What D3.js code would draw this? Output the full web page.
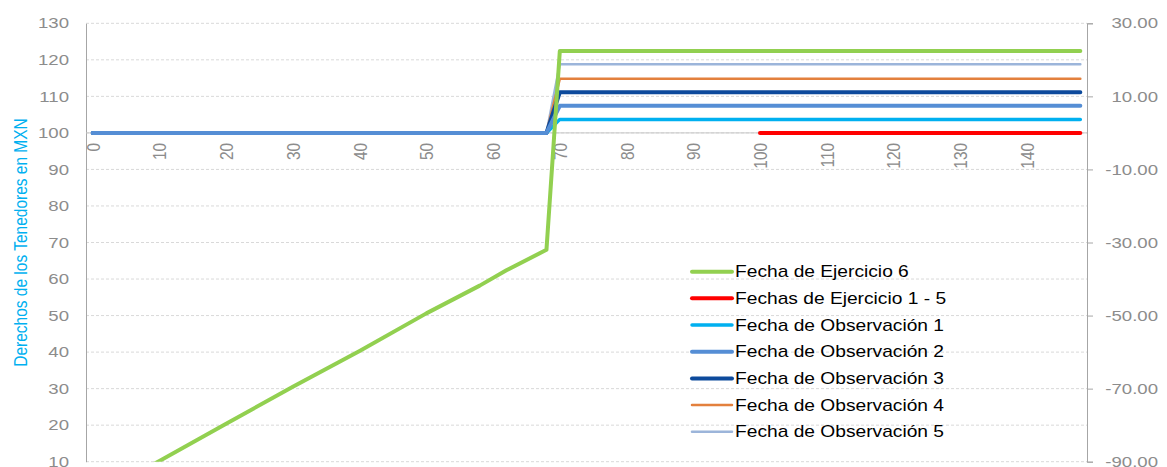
<!DOCTYPE html>
<html>
<head>
<meta charset="utf-8">
<script src="https://cdn.jsdelivr.net/npm/d3@7"></script>
<style>
  body { margin: 0; background: #fff; }
  svg { display: block; font-family: "Liberation Sans", Arial, sans-serif; }
</style>
</head>
<body>
<div id="chart"></div>
<script>
// tick labels
let x_ticks = [0, 10, 20, 30, 40, 50, 60, 70, 80, 90, 100, 110, 120, 130, 140];
let left_ticks = [10, 20, 30, 40, 50, 60, 70, 80, 90, 100, 110, 120, 130];
let right_ticks = [-90, -70, -50, -30, -10, 10, 30];

// series, as [day, value] vertices
let ejercicio_6 = [[0, 0.3], [10, 10.2], [20, 20.4], [30, 30.5], [40, 40.3], [50, 50.6],
                   [58, 58.2], [62, 62.4], [68, 68.0], [69, 95], [70, 122.4], [148, 122.4]];
let ejercicio_1_5 = [[100, 100], [148, 100]];
let observacion_1 = [[0, 100], [68, 100], [70, 103.7], [148, 103.7]];
let observacion_2 = [[0, 100], [68, 100], [70, 107.4], [148, 107.4]];
let observacion_3 = [[0, 100], [68, 100], [70, 111.1], [148, 111.1]];
let observacion_4 = [[0, 100], [68, 100], [70, 114.8], [148, 114.8]];
let observacion_5 = [[0, 100], [68, 100], [70, 118.8], [148, 118.8]];

let legend_names = ["Fecha de Ejercicio 6", "Fechas de Ejercicio 1 - 5", "Fecha de Observación 1",
                    "Fecha de Observación 2", "Fecha de Observación 3", "Fecha de Observación 4",
                    "Fecha de Observación 5"];

// colors
let color_green = "#92d050";
let color_red = "#ff0000";
let color_cyan = "#00b0f0";
let color_blue = "#558ed5";
let color_navy = "#0d4a9c";
let color_orange = "#e3803d";
let color_light_blue = "#9cb5da";
let color_label = "#8c8c8c";
let color_axis = "#a6a6a6";
let color_grid = "#d9d9d9";

let width = 1167;
let height = 467;
let plot = {left: 86, right: 1087, top: 23.3, bottom: 461.7};
let stretch = 1.2;   // text in the picture is drawn a bit wide
let font_size = 15.5;

let series = [
  {name: legend_names[0], data: ejercicio_6, color: color_green, w: 4},
  {name: legend_names[1], data: ejercicio_1_5, color: color_red, w: 4},
  {name: legend_names[2], data: observacion_1, color: color_cyan, w: 3.5},
  {name: legend_names[3], data: observacion_2, color: color_blue, w: 4},
  {name: legend_names[4], data: observacion_3, color: color_navy, w: 4},
  {name: legend_names[5], data: observacion_4, color: color_orange, w: 2.5},
  {name: legend_names[6], data: observacion_5, color: color_light_blue, w: 2.5}
];
// drawing order (last on top)
let draw_order = [6, 5, 2, 4, 3, 1, 0];

let x = d3.scaleLinear().domain([-1, 149]).range([plot.left, plot.right]);
let y = d3.scaleLinear().domain([10, 130]).range([plot.bottom, plot.top]);
let y_right = d3.scaleLinear().domain([-90, 30]).range([plot.bottom, plot.top]);

let svg = d3.select("#chart").append("svg")
            .attr("width", width)
            .attr("height", height);

svg.append("clipPath").attr("id", "plot-clip")
   .append("rect")
   .attr("x", plot.left)
   .attr("y", plot.top - 5)
   .attr("width", plot.right - plot.left)
   .attr("height", plot.bottom - plot.top + 5);

// gridlines
svg.append("g")
   .selectAll("line")
   .data(left_ticks)
   .join("line")
   .attr("x1", plot.left)
   .attr("x2", plot.right)
   .attr("y1", d => y(d))
   .attr("y2", d => y(d))
   .style("stroke", color_grid)
   .style("stroke-width", 1)
   .style("stroke-dasharray", "3,2");

// left axis
let left_axis = svg.append("g")
   .attr("transform", `translate(${plot.left},0)`)
   .call(d3.axisLeft(y).tickValues(left_ticks).tickSize(0).tickPadding(14.2));
left_axis.select(".domain").style("stroke", color_axis);
left_axis.selectAll("text")
   .attr("dy", "0.3em")
   .attr("transform", `scale(${stretch},1)`)
   .style("fill", color_label)
   .style("font-size", font_size + "px")
   .style("font-family", "Liberation Sans, Arial, sans-serif");

// right axis
let right_axis = svg.append("g")
   .attr("transform", `translate(${plot.right},0)`)
   .call(d3.axisRight(y_right).tickValues(right_ticks).tickSize(6)
           .tickFormat(d => d3.format(".2f")(d).replace("−", "-")));
right_axis.select(".domain").style("stroke", color_axis);
right_axis.selectAll("line").style("stroke", color_axis);
right_axis.selectAll("text")
   .attr("text-anchor", "end")
   .attr("x", (1158 - plot.right) / stretch)
   .attr("dy", "0.3em")
   .attr("transform", `scale(${stretch},1)`)
   .style("fill", color_label)
   .style("font-size", font_size + "px")
   .style("font-family", "Liberation Sans, Arial, sans-serif");

// category axis crossing at 100
let x_axis = svg.append("g")
   .attr("transform", `translate(0,${y(100)})`)
   .call(d3.axisBottom(x).tickValues(x_ticks).tickSize(0));
x_axis.select(".domain").style("stroke", "#c8c8c8").attr("d", `M${plot.left},0H${plot.right}`);
x_axis.selectAll("text")
   .attr("text-anchor", "end")
   .attr("x", -10)
   .attr("y", 0)
   .attr("dy", "0.35em")
   .attr("transform", `rotate(-90) scale(1,${stretch})`)
   .style("fill", color_label)
   .style("font-size", font_size + "px")
   .style("font-family", "Liberation Sans, Arial, sans-serif");

// lines
let line = d3.line().x(d => x(d[0])).y(d => y(d[1]));

svg.append("g")
   .attr("clip-path", "url(#plot-clip)")
   .selectAll("path")
   .data(draw_order.map(i => series[i]))
   .join("path")
   .attr("d", d => line(d.data))
   .style("fill", "none")
   .style("stroke", d => d.color)
   .style("stroke-width", d => d.w)
   .style("stroke-linecap", "round")
   .style("stroke-linejoin", "round");

// y axis title
svg.append("text")
   .attr("transform", `translate(20.5,242.5) rotate(-90) scale(1,${stretch})`)
   .attr("text-anchor", "middle")
   .attr("dy", "0.35em")
   .style("fill", color_cyan)
   .style("font-size", font_size + "px")
   .text("Derechos de los Tenedores en MXN");

// legend
let legend = svg.append("g")
   .selectAll("g")
   .data(series)
   .join("g")
   .attr("transform", (d, i) => `translate(692,${271.7 + i * 26.67})`);

legend.append("line")
   .attr("x1", 0)
   .attr("x2", 40)
   .style("stroke", d => d.color)
   .style("stroke-width", d => d.w)
   .style("stroke-linecap", "round");

legend.append("text")
   .attr("transform", `translate(43,0) scale(${stretch},1)`)
   .attr("dy", "0.35em")
   .style("fill", "#000")
   .style("font-size", "16px")
   .text(d => d.name);
</script>
</body>
</html>
